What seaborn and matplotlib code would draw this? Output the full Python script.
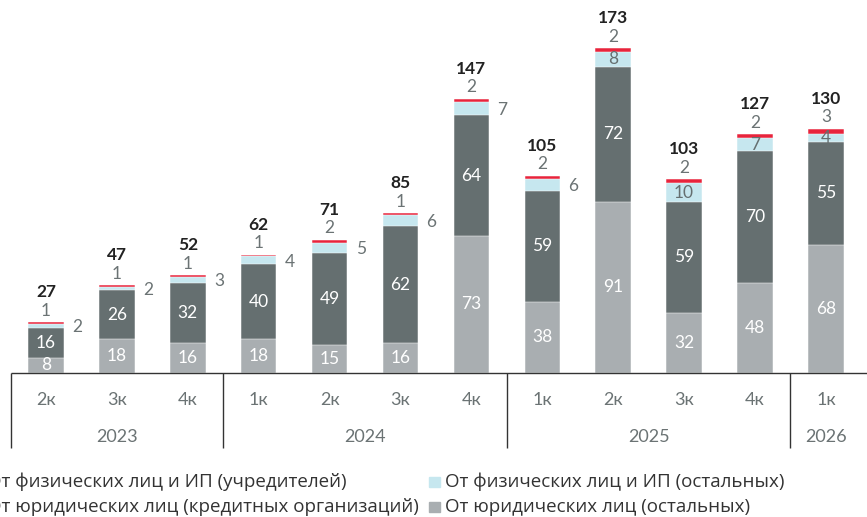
import pandas as pd
import matplotlib
matplotlib.use("Agg")
import matplotlib.pyplot as plt
import seaborn as sns
from matplotlib.patches import Rectangle

# data
quarters = ["2к", "3к", "4к", "1к", "2к", "3к", "4к", "1к", "2к", "3к", "4к", "1к"]
years = ["2023", "2024", "2025", "2026"]
year_spans = [3, 4, 4, 1]
legal_other = [8, 18, 16, 18, 15, 16, 73, 38, 91, 32, 48, 68]
legal_credit = [16, 26, 32, 40, 49, 62, 64, 59, 72, 59, 70, 55]
phys_other = [2, 2, 3, 4, 5, 6, 7, 6, 8, 10, 7, 4]
phys_founders = [1, 1, 1, 1, 2, 1, 2, 2, 2, 2, 2, 3]
totals = [27, 47, 52, 62, 71, 85, 147, 105, 173, 103, 127, 130]
blue_inside = [False] * 8 + [True] * 4

legend_labels = [
    "От физических лиц и ИП (учредителей)",
    "От юридических лиц (кредитных организаций)",
    "От физических лиц и ИП (остальных)",
    "От юридических лиц (остальных)",
]

C_LIGHT = "#a9aeb1"
C_DARK = "#656f70"
C_BLUE = "#c6e7ef"
C_RED = "#e8243c"
C_TXT = "#6b7374"

year_of = [y for y, n in zip(years, year_spans) for _ in range(n)]
periods = [f"{q} {y}" for q, y in zip(quarters, year_of)]

df = pd.DataFrame({
    "period": periods,
    "legal_other": legal_other,
    "legal_credit": legal_credit,
    "phys_other": phys_other,
    "phys_founders": phys_founders,
})
df["c1"] = df["legal_other"]
df["c2"] = df["c1"] + df["legal_credit"]
df["c3"] = df["c2"] + df["phys_other"]
df["c4"] = df["c3"] + df["phys_founders"]

sns.set_style("white")
plt.rcParams["font.family"] = ["Lato", "DejaVu Sans"]

W, H = 867, 517
fig = plt.figure(figsize=(W / 100, H / 100), dpi=100)
ax = fig.add_axes([0, 0, 1, 1])

# pixel -> data helpers
BASE = 373.0     # baseline, px from top
SCALE = 1.88     # px per unit
X0, DX = 46.0, 70.9


def ypx(p):
    return (BASE - p) / SCALE


def xpx(p):
    return (p - X0) / DX


# stacked bars drawn back to front as cumulative sums
for col, color in [("c4", C_RED), ("c3", C_BLUE), ("c2", C_DARK), ("c1", C_LIGHT)]:
    sns.barplot(data=df, x="period", y=col, order=periods, color=color,
                saturation=1, width=0.5, errorbar=None, edgecolor="white",
                linewidth=0.35, ax=ax)

ax.set_xlim(xpx(0), xpx(W))
ax.set_ylim(ypx(H), ypx(0))
ax.axis("off")

fs = 12.5
for i, r in df.iterrows():
    ax.text(i, r["c1"] / 2, str(r["legal_other"]), ha="center", va="center",
            color="white", fontsize=fs)
    ax.text(i, r["c1"] + r["legal_credit"] / 2, str(r["legal_credit"]),
            ha="center", va="center", color="white", fontsize=fs)
    mid_blue = r["c2"] + r["phys_other"] / 2
    if blue_inside[i]:
        ax.text(i, mid_blue, str(r["phys_other"]), ha="center", va="center",
                color=C_DARK, fontsize=fs)
    else:
        ax.annotate(str(r["phys_other"]), (i + 0.25, mid_blue),
                    xytext=(6, -1), textcoords="offset points",
                    ha="left", va="center", color=C_TXT, fontsize=fs)
    ax.annotate(str(r["phys_founders"]), (i, r["c4"]), xytext=(0, 8),
                textcoords="offset points", ha="center", va="center",
                color=C_TXT, fontsize=fs)
    ax.annotate(str(totals[i]), (i, r["c4"]), xytext=(0, 21.5),
                textcoords="offset points", ha="center", va="center",
                color="#222222", fontsize=fs, fontweight="bold")

# category axis drawn by hand
line_kw = dict(color="#333333", lw=1, solid_capstyle="butt")
ax.plot([-0.5, xpx(W)], [0, 0], **line_kw)
bounds = [-0.5]
for n in year_spans:
    bounds.append(bounds[-1] + n)
for b in bounds[:-1]:
    ax.plot([b, b], [0, ypx(448)], **line_kw)
for i, q in enumerate(quarters):
    ax.text(i, ypx(400), q, ha="center", va="center", color=C_TXT, fontsize=13)
for k, y in enumerate(years):
    ax.text((bounds[k] + bounds[k + 1]) / 2, ypx(437), y, ha="center",
            va="center", color=C_TXT, fontsize=13)

# legend
leg_colors = [C_RED, C_DARK, C_BLUE, C_LIGHT]
leg_x = [-13, -13, 445, 445]
leg_y = [482, 507, 482, 507]
for lab, c, lx, ly in zip(legend_labels, leg_colors, leg_x, leg_y):
    ax.add_patch(Rectangle((xpx(lx - 16), ypx(ly + 5)), 11 / DX, 10 / SCALE,
                           color=c, clip_on=False))
    ax.text(xpx(lx), ypx(ly), lab, ha="left", va="center", color="#333333",
            fontsize=13.5, family=["Open Sans", "DejaVu Sans"])

fig.savefig("out.png", dpi=100)
